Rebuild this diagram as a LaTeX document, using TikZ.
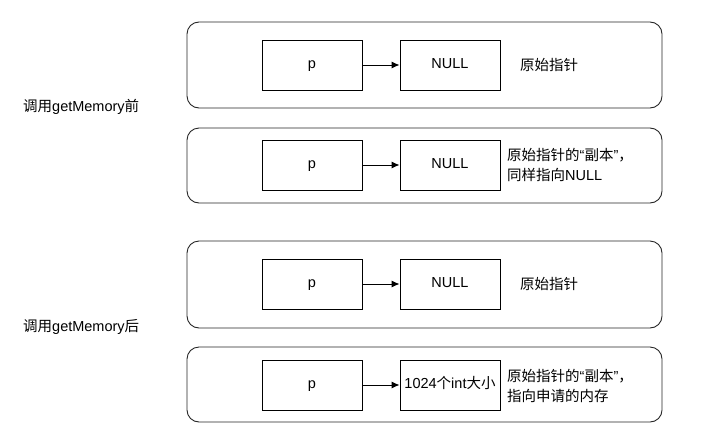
\documentclass[tikz,border=0pt]{standalone}
\usepackage{fontspec}
\setmainfont{Liberation Sans}
\newfontfamily\cjk{Noto Sans CJK SC}
\usetikzlibrary{arrows.meta}
\begin{document}
\begin{tikzpicture}[x=1pt,y=-1pt,
  outer/.style={draw=black!85,line width=0.9pt,rounded corners=12pt},
  cell/.style={draw=black,line width=0.9pt,minimum width=100pt,minimum height=50pt,inner sep=0pt,text height=0.72em,text depth=0pt,font=\fontsize{14.5}{16}\selectfont},
  lbl/.style={anchor=west,inner sep=0pt,align=left,font=\fontsize{14.5}{19.5}\selectfont},
  ptr/.style={-{Latex[length=8pt,width=7pt]},line width=0.9pt}]
\useasboundingbox (0,0) rectangle (727,442);
% outer frames
\draw[outer] (187,22) rectangle (662,108);
\draw[outer] (187,128) rectangle (662,203);
\draw[outer] (187,241) rectangle (662,328);
\draw[outer] (187,347) rectangle (662,422);
% side labels
\node[lbl] (before) at (23,107) {{\cjk 调用}getMemory{\cjk 前}};
\node[lbl] (after) at (23,327) {{\cjk 调用}getMemory{\cjk 后}};
% row 1
\node[cell] (p1) at (312,65) {p};
\node[cell] (n1) at (450,65) {NULL};
\draw[ptr] (p1) -- (n1);
\node[lbl] (t1) at (520,65) {\cjk 原始指针};
% row 2
\node[cell] (p2) at (312,165) {p};
\node[cell] (n2) at (450,165) {NULL};
\draw[ptr] (p2) -- (n2);
\node[lbl] (t2) at (507,165) {{\cjk 原始指针的}“{\cjk 副本}”{\cjk ，}\\{\cjk 同样指向}NULL};
% row 3
\node[cell] (p3) at (312,284) {p};
\node[cell] (n3) at (450,284) {NULL};
\draw[ptr] (p3) -- (n3);
\node[lbl] (t3) at (520,284) {\cjk 原始指针};
% row 4
\node[cell] (p4) at (312,385) {p};
\node[cell] (n4) at (450,385) {1024{\cjk 个}int{\cjk 大小}};
\draw[ptr] (p4) -- (n4);
\node[lbl] (t4) at (507,386) {{\cjk 原始指针的}“{\cjk 副本}”{\cjk ，}\\{\cjk 指向申请的内存}};
\end{tikzpicture}
\end{document}
